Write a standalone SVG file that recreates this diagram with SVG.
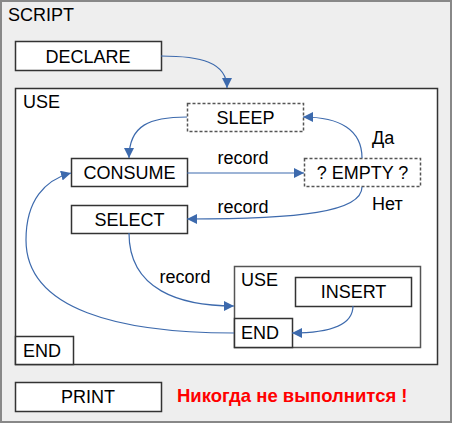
<svg xmlns="http://www.w3.org/2000/svg" width="453" height="424" viewBox="0 0 453 424">
<defs>
<marker id="ah" viewBox="0 0 10 10" refX="10" refY="5" markerWidth="10" markerHeight="10" markerUnits="userSpaceOnUse" orient="auto">
<path d="M0,0 L10,5 L0,10 z" fill="#3d6aad"/>
</marker>
<style>
text{font-family:"Liberation Sans",Arial,sans-serif;font-size:18px;fill:#000}
.c{text-anchor:middle}
.box{fill:#fff;stroke:#333;stroke-width:1.5}
.dash{fill:#fff;stroke:#555;stroke-width:1.5;stroke-dasharray:3,2}
.con{fill:none;stroke:#3d6aad;stroke-width:1.2;marker-end:url(#ah)}
.red{fill:#ff0000;font-weight:bold;font-size:18.5px}
</style>
</defs>
<g id="script">
<rect x="1" y="1" width="450" height="421" fill="#eeeeee" stroke="#888" stroke-width="2"/>
<text x="8" y="21">SCRIPT</text>
</g>
<g id="declare">
<rect class="box" x="15.5" y="41.5" width="146" height="29"/>
<text class="c" x="88" y="62.5">DECLARE</text>
</g>
<g id="use">
<rect class="box" x="15.5" y="88.5" width="422" height="276"/>
<text x="23" y="108">USE</text>
</g>
<g id="sleep">
<rect class="dash" x="187.5" y="103.5" width="116" height="28"/>
<text class="c" x="245.5" y="123.5">SLEEP</text>
</g>
<g id="empty">
<rect class="dash" x="304.5" y="158.5" width="116" height="28"/>
<text class="c" x="362.5" y="179">? EMPTY ?</text>
</g>
<g id="consume">
<rect class="box" x="71.5" y="158.5" width="116" height="28"/>
<text class="c" x="129.5" y="179">CONSUME</text>
</g>
<g id="select">
<rect class="box" x="71.5" y="205.5" width="116" height="28"/>
<text class="c" x="129.5" y="225.5">SELECT</text>
</g>
<g id="use2">
<rect x="234.5" y="266.5" width="186" height="81" fill="#fff" stroke="#555" stroke-width="1.5"/>
<text x="241" y="286">USE</text>
</g>
<g id="insert">
<rect class="box" x="295.5" y="277.5" width="116" height="29"/>
<text class="c" x="353.5" y="298">INSERT</text>
</g>
<g id="end2">
<rect class="box" x="234.5" y="318.5" width="58" height="29"/>
<text x="241" y="339">END</text>
</g>
<g id="end1">
<rect class="box" x="15.5" y="336.5" width="58" height="28"/>
<text x="23" y="356.5">END</text>
</g>
<g id="print">
<rect class="box" x="15.5" y="382.5" width="146" height="29"/>
<text class="c" x="88" y="403">PRINT</text>
</g>
<g id="note">
<text class="red" x="177" y="402">Никогда не выполнится !</text>
</g>
<g id="connectors">
<path class="con" d="M161,56 C200,56 227,62 227,88"/>
<path class="con" d="M187,117 C150,117 129,125 129,158"/>
<path class="con" d="M187,173 L304,173"/>
<path class="con" d="M362,158 C362,130 340,117 303,117"/>
<path class="con" d="M362,187 C362,212 300,219 187,219"/>
<path class="con" d="M129,233 C129,290 180,306 234,306"/>
<path class="con" d="M353,306 C353,325 330,333 292,333"/>
<path class="con" d="M234,333 C120,333 26,310 26,240 C26,200 45,180 71,173"/>
<text class="c" x="243" y="163.5">record</text>
<text class="c" x="243" y="212.5">record</text>
<text class="c" x="185" y="282.5">record</text>
<text x="372" y="144">Да</text>
<text x="372" y="209.5">Нет</text>
</g>
</svg>
